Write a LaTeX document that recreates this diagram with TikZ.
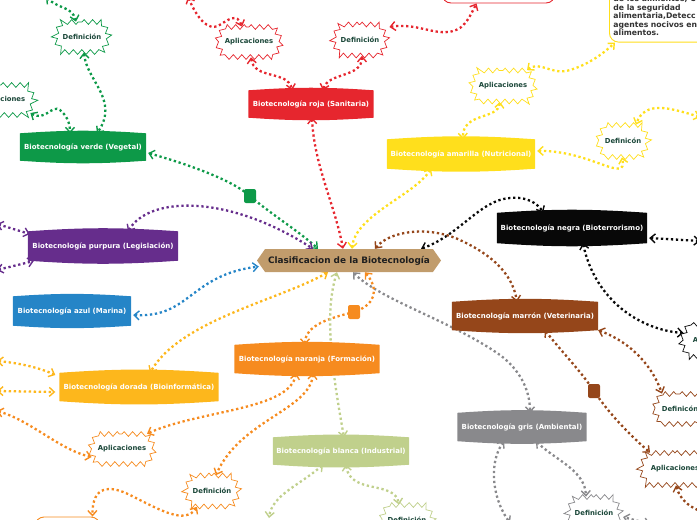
\documentclass[tikz,border=0pt]{standalone}
\usepackage{fontspec}
\setmainfont{DejaVu Sans}
\usetikzlibrary{arrows.meta,shapes.symbols,decorations.pathmorphing,backgrounds,calc}

\definecolor{cgreen}{RGB}{13,153,72}
\definecolor{cred}{RGB}{230,38,46}
\definecolor{cyellow}{RGB}{255,223,28}
\definecolor{cpurple}{RGB}{102,45,140}
\definecolor{cblue}{RGB}{37,133,199}
\definecolor{cblack}{RGB}{8,8,8}
\definecolor{cbrown}{RGB}{149,70,26}
\definecolor{cgold}{RGB}{253,183,28}
\definecolor{corange}{RGB}{246,139,31}
\definecolor{clgreen}{RGB}{192,208,140}
\definecolor{cgray}{RGB}{137,137,140}
\definecolor{ctan}{RGB}{193,156,108}
\definecolor{clabel}{RGB}{28,72,58}

\newcommand{\barrelfill}[2]{\fill[#2] (#1.south west) -- (#1.north west) to[bend left=4] (#1.north east) -- (#1.south east) to[bend left=4] (#1.south west) -- cycle;}

\tikzset{
 conn/.style={draw=#1, line width=2.3pt, dash pattern=on 2.3pt off 2.7pt,
   {Straight Barb[length=5pt,width=9pt,line width=1.4pt]}-{Straight Barb[length=5pt,width=9pt,line width=1.4pt]}},
 cat/.style={text=white, font=\bfseries\fontsize{7}{8.4}\selectfont, inner sep=0pt},
 wavy/.style={signal, signal to=west and east, signal pointer angle=125, draw=#1, fill=white,
   line width=0.7pt, decorate, decoration={zigzag, segment length=8.5pt, amplitude=2.4pt},
   text=clabel, font=\bfseries\fontsize{6.85}{8}\selectfont, inner sep=0pt},
 sq/.style={fill=#1, rounded corners=2pt, minimum width=12pt, minimum height=14pt, inner sep=0pt},
 boxed/.style={draw=#1, fill=white, line width=0.9pt, rounded corners=9pt},
}

\begin{document}
\begin{tikzpicture}[x=1pt,y=-1pt]
\useasboundingbox (0,0) rectangle (697,520);

% root
\node[signal, signal to=west and east, signal pointer angle=110, fill=ctan, minimum width=184pt,
  minimum height=23pt, inner sep=0pt, text=black!88, font=\bfseries\fontsize{8.9}{10}\selectfont]
  (root) at (349,260.5) {Clasificacion de la Biotecnología};

% categories
\node[cat, minimum width=126pt, minimum height=27pt] (verde) at (83,147) {Biotecnología verde (Vegetal)};
\node[cat, minimum width=125pt, minimum height=27pt] (roja) at (311,104) {Biotecnología roja (Sanitaria)};
\node[cat, minimum width=148pt, minimum height=29pt] (amarilla) at (461,154) {Biotecnología amarilla (Nutricional)};
\node[cat, minimum width=150pt, minimum height=29pt] (purpura) at (103,246) {Biotecnología purpura (Legislación)};
\node[cat, minimum width=118pt, minimum height=29pt] (azul) at (72,311) {Biotecnología azul (Marina)};
\node[cat, minimum width=150pt, minimum height=30pt] (negra) at (572,228) {Biotecnología negra (Bioterrorismo)};
\node[cat, minimum width=146pt, minimum height=28pt] (marron) at (525,316) {Biotecnología marrón (Veterinaria)};
\node[cat, minimum width=159pt, minimum height=28pt] (dorada) at (139,387) {Biotecnología dorada (Bioinformática)};
\node[cat, minimum width=145pt, minimum height=28pt] (naranja) at (307,359) {Biotecnología naranja (Formación)};
\node[cat, minimum width=136pt, minimum height=27pt] (blanca) at (341,451) {Biotecnología blanca (Industrial)};
\node[cat, minimum width=129pt, minimum height=28pt] (gris) at (522,427) {Biotecnología gris (Ambiental)};

% wavy labels
\node[wavy=cgreen, minimum width=56pt, minimum height=30pt] (gdef) at (82,37) {Definición};
\node[wavy=cgreen, minimum width=68pt, minimum height=30pt] (gapl) at (1,100) {Aplicaciones};
\node[wavy=cred, minimum width=66pt, minimum height=30pt] (rapl) at (249,42) {Aplicaciones};
\node[wavy=cred, minimum width=56pt, minimum height=31pt] (rdef) at (360,40) {Definición};
\node[wavy=cyellow, minimum width=66pt, minimum height=31pt] (yapl) at (503,86) {Aplicaciones};
\node[wavy=cyellow, minimum width=52pt, minimum height=32pt] (ydef) at (623,141) {Definicón};
\node[wavy=cblack, minimum width=74pt, minimum height=32pt] (kapl) at (717,341) {Aplicaciones};
\node[wavy=cbrown, minimum width=54pt, minimum height=30pt] (bdef) at (680,409) {Definicón};
\node[wavy=cbrown, minimum width=72pt, minimum height=32pt] (bapl) at (675,469) {Aplicaciones};
\node[wavy=corange, minimum width=66pt, minimum height=30pt] (oapl) at (122,449) {Aplicaciones};
\node[wavy=corange, minimum width=56pt, minimum height=31pt] (odef) at (212,491) {Definición};
\node[wavy=clgreen, minimum width=52pt, minimum height=30pt] (ldef) at (407,520) {Definición};
\node[wavy=cgray, minimum width=54pt, minimum height=32pt] (grdef) at (594,513) {Definición};

% boxes
\node[boxed=cred, minimum width=113pt, minimum height=36pt] (rbox) at (498.5,-15) {};
\node[boxed=cyellow, anchor=south west, text width=110pt, align=left, inner xsep=4pt, inner ysep=6pt,
  text=black!80, font=\bfseries\fontsize{7.7}{8.6}\selectfont] (ybox) at (609,42.5)
  {de los alimentos, C\\de la seguridad\\alimentaria,Detecc\\agentes nocivos en\\alimentos.};
\node[boxed=corange, minimum width=65pt, minimum height=36pt] (obox) at (67.5,535) {};

% markers
\node[sq=cgreen] (gsq) at (250,196) {};
\node[sq=corange] (osq) at (354,312) {};
\node[sq=cbrown] (bsq) at (594,391) {};

% free ends
\coordinate (gtop) at (46,-3);
\coordinate (rtop) at (188,-3);
\coordinate (yright) at (700,117);
\coordinate (pl1) at (-3,224);
\coordinate (pl2) at (-3,270);
\coordinate (nright) at (700,241);
\coordinate (bbot) at (706,513);
\coordinate (gbot) at (510,523);
\coordinate (grr) at (650,524);
\coordinate (dl1) at (-3,361);
\coordinate (dl2) at (-3,391);
\coordinate (ol) at (-3,411);
\coordinate (lb) at (269,518);

\begin{scope}[on background layer]
% green
\draw[conn=cgreen] ($(verde.east)+(2,6)$) .. controls (190,165) and (232,180) .. (gsq.center) .. controls (268,212) and (300,232) .. ($(root.north)+(-31,0)$);
\draw[conn=cgreen] ($(gdef.south)+(2,0)$) .. controls (86,80) and (120,100) .. ($(verde.north)+(14,0)$);
\draw[conn=cgreen] ($(gapl.east)+(-5,13)$) .. controls (45,122) and (52,104) .. (60,110) .. controls (66,115) and (70,122) .. ($(verde.north)+(-13,0)$);
\draw[conn=cgreen] (gtop) .. controls (60,10) and (72,6) .. ($(gdef.north)+(-6,0)$);
% red
\draw[conn=cred] ($(roja.south)+(1,0)$) .. controls (314,165) and (335,205) .. ($(root.north)+(-6,0)$);
\draw[conn=cred] ($(rapl.south)+(2,0)$) .. controls (254,80) and (288,70) .. ($(roja.north)+(-19,0)$);
\draw[conn=cred] ($(rdef.south)+(2,0)$) .. controls (362,78) and (328,72) .. ($(roja.north)+(12,0)$);
\draw[conn=cred] (rtop) .. controls (198,20) and (208,30) .. (218,26) .. controls (228,20) and (237,12) .. ($(rapl.north)+(-7,0)$);
\draw[conn=cred] ($(rdef.east)+(1,-13)$) .. controls (420,22) and (440,40) .. (460,28) .. controls (468,22) and (472,12) .. ($(rbox.south)+(-22,0)$);
% yellow
\draw[conn=cyellow] ($(amarilla.south)+(-30,0)$) .. controls (415,195) and (355,215) .. ($(root.north)+(3,0)$);
\draw[conn=cyellow] ($(yapl.south)+(-3,0)$) .. controls (498,120) and (462,112) .. ($(amarilla.north)+(2,0)$);
\draw[conn=cyellow] ($(yapl.north)+(24,0)$) .. controls (540,60) and (552,76) .. (570,70) .. controls (590,64) and (605,52) .. ($(ybox.south west)+(6,0)$);
\draw[conn=cyellow] ($(amarilla.east)+(2,-3)$) .. controls (590,150) and (628,185) .. ($(ydef.south)+(-1,0)$);
\draw[conn=cyellow] (yright) .. controls (670,108) and (645,100) .. ($(ydef.north)+(13,0)$);
% purple
\draw[conn=cpurple] ($(purpura.north)+(25,0)$) .. controls (150,195) and (230,195) .. ($(root.north)+(-36,0)$);
\draw[conn=cpurple] (pl1) -- ($(purpura.west)+(2,-12)$);
\draw[conn=cpurple] (pl2) -- ($(purpura.west)+(6,15)$);
% blue
\draw[conn=cblue] ($(azul.east)+(2,4)$) .. controls (190,318) and (190,275) .. ($(root.west)+(2,6)$);
% black
\draw[conn=cblack] ($(root.north)+(72,0)$) .. controls (460,235) and (480,200) .. (510,198) .. controls (525,196) and (538,203) .. ($(negra.north)+(-29,0)$);
\draw[conn=cblack] ($(negra.east)+(2,10)$) -- (nright);
\draw[conn=cblack] ($(negra.south)+(11,0)$) .. controls (595,300) and (640,330) .. ($(kapl.west)+(4,-8)$);
% brown
\draw[conn=cbrown] ($(root.north)+(26,0)$) .. controls (390,230) and (430,226) .. (460,240) .. controls (490,254) and (512,272) .. ($(marron.north)+(-8,0)$);
\draw[conn=cbrown] (marron.south east) .. controls (625,340) and (650,360) .. ($(bdef.north)+(-18,0)$);
\draw[conn=cbrown] ($(marron.south)+(20,0)$) .. controls (560,350) and (580,370) .. (bsq.center) .. controls (610,415) and (630,435) .. ($(bapl.north)+(-25,0)$);
\draw[conn=cbrown] ($(bapl.south)+(1,0)$) .. controls (680,500) and (690,508) .. (bbot);
% gray
\draw[conn=cgray] ($(root.south)+(4,0)$) .. controls (380,300) and (450,320) .. (500,355) .. controls (520,370) and (530,390) .. ($(gris.north)+(8,0)$);
\draw[conn=cgray] ($(gris.south)+(14,0)$) .. controls (555,460) and (585,470) .. ($(grdef.north)+(-8,0)$);
\draw[conn=cgray] ($(gris.south)+(-18,0)$) .. controls (490,460) and (490,495) .. (gbot);
\draw[conn=cgray] (grr) -- ($(grdef.east)+(1,4)$);
% orange
\draw[conn=corange] ($(naranja.north)+(-2,0)$) .. controls (305,325) and (330,318) .. (osq.center) .. controls (375,305) and (380,290) .. ($(root.south)+(16,0)$);
\draw[conn=corange] ($(naranja.south)+(-11,0)$) .. controls (290,410) and (200,410) .. ($(oapl.north)+(25,0)$);
\draw[conn=corange] ($(naranja.south)+(6,0)$) .. controls (310,410) and (240,420) .. ($(odef.north)+(4,0)$);
\draw[conn=corange] (ol) .. controls (30,420) and (60,450) .. ($(oapl.west)+(3,8)$);
\draw[conn=corange] ($(odef.south)+(-15,0)$) .. controls (185,525) and (160,510) .. (130,495) .. controls (110,485) and (92,485) .. ($(obox.north)+(25,0)$);
% gold
\draw[conn=cgold] ($(root.south)+(-21,0)$) .. controls (280,300) and (180,320) .. ($(dorada.north)+(11,0)$);
\draw[conn=cgold] (dl1) .. controls (20,363) and (40,368) .. ($(dorada.west)+(-4,-12)$);
\draw[conn=cgold] (dl2) -- ($(dorada.west)+(-4,5)$);
% light green
\draw[conn=clgreen] ($(root.south)+(-12,0)$) .. controls (325,310) and (330,360) .. ($(blanca.north)+(3,0)$);
\draw[conn=clgreen] ($(blanca.south)+(5,0)$) .. controls (350,495) and (395,480) .. ($(ldef.north)+(-8,0)$);
\draw[conn=clgreen] ($(blanca.south)+(-18,0)$) .. controls (300,485) and (272,495) .. (lb);
% category fills
\barrelfill{verde}{cgreen}
\barrelfill{roja}{cred}
\barrelfill{amarilla}{cyellow}
\barrelfill{purpura}{cpurple}
\barrelfill{azul}{cblue}
\barrelfill{negra}{cblack}
\barrelfill{marron}{cbrown}
\barrelfill{dorada}{cgold}
\barrelfill{naranja}{corange}
\barrelfill{blanca}{clgreen}
\barrelfill{gris}{cgray}
\end{scope}
\end{tikzpicture}
\end{document}
